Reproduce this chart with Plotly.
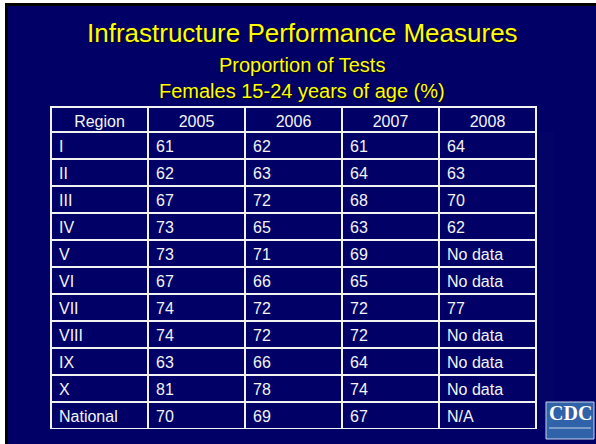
import plotly.graph_objects as go

W, H = 596, 444

title = "Infrastructure Performance Measures"
subtitle1 = "Proportion of Tests"
subtitle2 = "Females 15-24 years of age (%)"

header = ["Region", "2005", "2006", "2007", "2008"]
regions = ["I", "II", "III", "IV", "V", "VI", "VII", "VIII", "IX", "X", "National"]
y2005 = ["61", "62", "67", "73", "73", "67", "74", "74", "63", "81", "70"]
y2006 = ["62", "63", "72", "65", "71", "66", "72", "72", "66", "78", "69"]
y2007 = ["61", "64", "68", "63", "69", "65", "72", "72", "64", "74", "67"]
y2008 = ["64", "63", "70", "62", "No data", "No data", "77", "No data", "No data", "No data", "N/A"]

NAVY = "#000066"
YELLOW = "#FFFF00"
FONT = "Liberation Sans, Arial, sans-serif"

fig = go.Figure()
fig.add_trace(go.Table(
    domain=dict(x=[51 / W, 536 / W], y=[1 - 429 / H, 1 - 107 / H]),
    columnwidth=[1, 1, 1, 1, 1],
    header=dict(
        values=header,
        align="center",
        height=25,
        fill_color=NAVY,
        line=dict(color="#f2f2f2", width=2),
        font=dict(family=FONT, size=16, color="#f4f4f4"),
    ),
    cells=dict(
        values=[regions, y2005, y2006, y2007, y2008],
        align="left",
        height=27,
        fill_color=NAVY,
        line=dict(color="#f2f2f2", width=2),
        font=dict(family=FONT, size=16, color="#f4f4f4"),
    ),
))

shadow = "1px 1px 1px #000000"
ann = [
    dict(text=title, x=302 / W, y=1 - 33 / H, size=26),
    dict(text=subtitle1, x=302 / W, y=1 - 65 / H, size=20),
    dict(text=subtitle2, x=302 / W, y=1 - 91 / H, size=20),
]
annotations = []
for a in ann:
    annotations.append(dict(
        text=a["text"], x=a["x"], y=a["y"], xref="paper", yref="paper",
        xanchor="center", yanchor="middle", showarrow=False,
        font=dict(family=FONT, size=a["size"], color=YELLOW, shadow=shadow),
    ))

# CDC logo
annotations.append(dict(
    text="<b>CDC</b>", x=570 / W, y=1 - 413 / H, xref="paper", yref="paper",
    xanchor="center", yanchor="middle", showarrow=False,
    font=dict(family="Liberation Serif, Times New Roman, serif", size=20, color="#ffffff"),
))

shapes = [
    # slide frame: white margin and black shadow
    dict(type="rect", xref="paper", yref="paper", x0=0, x1=5 / W, y0=0, y1=1,
         fillcolor="#ffffff", line=dict(width=0), layer="below"),
    dict(type="rect", xref="paper", yref="paper", x0=0, x1=1, y0=1 - 3 / H, y1=1,
         fillcolor="#ffffff", line=dict(width=0), layer="below"),
    dict(type="rect", xref="paper", yref="paper", x0=5 / W, x1=8 / W, y0=0, y1=1 - 3 / H,
         fillcolor="#000000", line=dict(width=0), layer="below"),
    dict(type="rect", xref="paper", yref="paper", x0=5 / W, x1=1, y0=1 - 6 / H, y1=1 - 3 / H,
         fillcolor="#000000", line=dict(width=0), layer="below"),
    # logo box
    dict(type="rect", xref="paper", yref="paper", x0=546 / W, x1=594 / W,
         y0=1 - 439 / H, y1=1 - 402 / H,
         fillcolor="#2f62a8", line=dict(color="#c8d4ea", width=1), layer="below"),
    dict(type="line", xref="paper", yref="paper", x0=549 / W, x1=591 / W,
         y0=1 - 428 / H, y1=1 - 428 / H, line=dict(color="#c8d4ea", width=1), layer="below"),
]

fig.update_layout(
    width=W, height=H,
    margin=dict(l=0, r=0, t=0, b=0),
    paper_bgcolor=NAVY,
    plot_bgcolor=NAVY,
    annotations=annotations,
    shapes=shapes,
    showlegend=False,
)

fig.write_html(
    "out.html",
    config={"displayModeBar": False},
    post_script="document.body.style.margin='0';document.body.style.padding='0';",
)
